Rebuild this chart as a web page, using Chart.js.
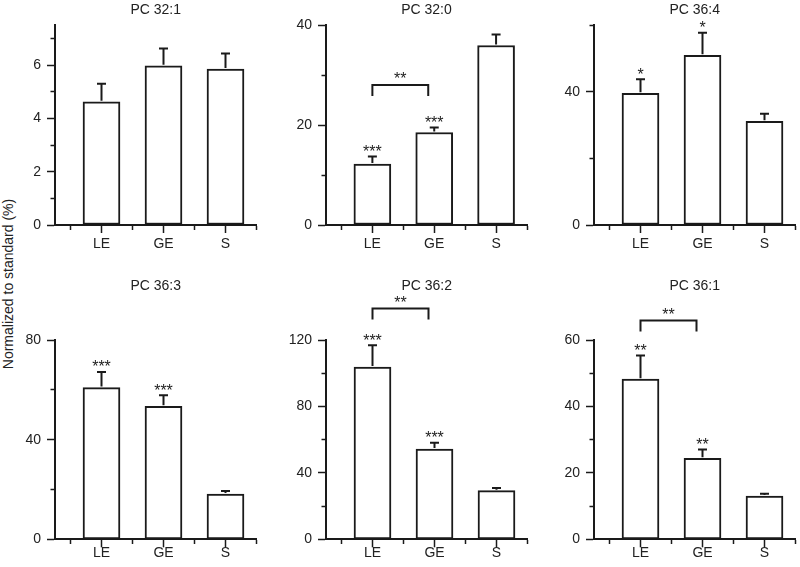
<!DOCTYPE html>
<html>
<head>
<meta charset="utf-8">
<script src="https://cdn.jsdelivr.net/npm/chart.js@4.4.0/dist/chart.umd.min.js"></script>
<style>
  html, body { margin: 0; padding: 0; background: #fff; }
  #wrap { position: relative; width: 800px; height: 567px; overflow: hidden; font-family: "Liberation Sans", Arial, sans-serif; }
  #wrap canvas { position: absolute; }
  #ylab { position: absolute; left: 8px; top: 284px; transform: translate(-50%, -50%) rotate(-90deg);
          white-space: nowrap; font-size: 14px; color: #222; }
</style>
</head>
<body>
<div id="wrap">
  <div id="ylab">Normalized to standard (%)</div>
</div>
<script>
// data
var categories = ['LE', 'GE', 'S'];
var titles = ['PC 32:1', 'PC 32:0', 'PC 36:4', 'PC 36:3', 'PC 36:2', 'PC 36:1'];
var means = [
    [4.62, 5.97, 5.85],
    [12.2, 18.5, 35.9],
    [39.5, 50.9, 31.1],
    [60.9, 53.4, 18.2],
    [103.7, 54.3, 29.3],
    [48.2, 24.4, 13.0]
];
var errors = [
    [0.68, 0.65, 0.58],
    [1.5, 1.0, 2.2],
    [4.2, 6.8, 2.3],
    [6.3, 4.4, 1.2],
    [13.1, 3.8, 1.6],
    [7.1, 2.6, 0.7]
];
var stars = [
    ['', '', ''],
    ['***', '***', ''],
    ['*', '*', ''],
    ['***', '***', ''],
    ['***', '***', ''],
    ['**', '**', '']
];
// LE vs GE comparisons: level in axis units
var brackets = [null, {from: 0, to: 1, level: 28, label: '**'}, null, null,
    {from: 0, to: 1, level: 139, label: '**'}, {from: 0, to: 1, level: 65.9, label: '**'}];
var yMax = [7.5, 40, 60, 80, 120, 60];
var yStep = [1, 10, 20, 20, 20, 10];
var yLabelStep = [2, 20, 40, 40, 40, 20];

// layout
var cols = [
    {left: 0, width: 265, areaLeft: 55},
    {left: 265, width: 265, areaLeft: 326},
    {left: 530, width: 270, areaLeft: 594}
];
var rows = [
    {top: 0, height: 262, areaTop: 25, areaBottom: 225, titleY: 10.3, labelPad: 3},
    {top: 262, height: 305, areaTop: 340, areaBottom: 539.3, titleY: 286, labelPad: -2.5}
];
var AREA_W = 201.5;
var INK = '#1a1a1a';

function makePanel(p) {
    var col = cols[p % 3], row = rows[Math.floor(p / 3)];
    var canvas = document.createElement('canvas');
    canvas.width = col.width;
    canvas.height = row.height;
    canvas.style.left = col.left + 'px';
    canvas.style.top = row.top + 'px';
    document.getElementById('wrap').appendChild(canvas);

    var yw = col.areaLeft - col.left;
    var padR = col.left + col.width - (col.areaLeft + AREA_W);
    var xh = row.top + row.height - row.areaBottom;
    var tTop = row.titleY - row.top - 8.4;
    var tBottom = row.areaTop - row.top - tTop - 16.8;

    var annotate = {
        id: 'annotate' + p,
        afterDatasetsDraw: function(chart) {
            var ctx = chart.ctx, xs = chart.scales.x, ys = chart.scales.y;
            ctx.save();
            ctx.strokeStyle = INK;
            ctx.fillStyle = '#222';
            ctx.lineWidth = 2;
            ctx.font = '16px "Liberation Sans", Arial, sans-serif';
            ctx.textAlign = 'center';
            ctx.textBaseline = 'alphabetic';
            means[p].forEach(function(m, i) {
                var x = xs.getPixelForValue(i);
                var yb = ys.getPixelForValue(m);
                var yt = ys.getPixelForValue(m + errors[p][i]);
                ctx.beginPath();
                ctx.moveTo(x, yb - 1);
                ctx.lineTo(x, yt);
                ctx.moveTo(x - 4.5, yt);
                ctx.lineTo(x + 4.5, yt);
                ctx.stroke();
                if (stars[p][i]) {
                    ctx.fillText(stars[p][i], x, yt + 0.3);
                }
            });
            var b = brackets[p];
            if (b) {
                var x1 = xs.getPixelForValue(b.from);
                var x2 = xs.getPixelForValue(b.to) - 6;
                var yl = ys.getPixelForValue(b.level);
                ctx.beginPath();
                ctx.moveTo(x1, yl + 11);
                ctx.lineTo(x1, yl);
                ctx.lineTo(x2, yl);
                ctx.lineTo(x2, yl + 11);
                ctx.stroke();
                ctx.fillText(b.label, (x1 + x2) / 2, yl - 0.7);
            }
            ctx.restore();
        }
    };

    // short (minor) tick marks are made with a dash pattern on the tick line
    function xDash(c) {
        if (!c.tick) return [];
        return Number.isInteger(c.tick.value) ? [] : [4, 20];
    }
    function yDash(c) {
        if (!c.tick) return [];
        return c.tick.value % yLabelStep[p] === 0 ? [] : [0, 3.5, 10, 0];
    }

    new Chart(canvas.getContext('2d'), {
        type: 'bar',
        data: {
            datasets: [{
                data: means[p].map(function(m, i) { return {x: i, y: m}; }),
                backgroundColor: '#ffffff',
                borderColor: INK,
                borderWidth: 2,
                borderSkipped: false,
                barThickness: 37
            }]
        },
        options: {
            responsive: false,
            devicePixelRatio: 1,
            animation: false,
            layout: {padding: {left: 0, right: padR, top: 0, bottom: 0}},
            plugins: {
                legend: {display: false},
                tooltip: {enabled: false},
                title: {
                    display: true,
                    text: titles[p],
                    fullSize: false,
                    color: '#222',
                    font: {family: '"Liberation Sans", Arial, sans-serif', size: 14, weight: 'normal'},
                    padding: {top: tTop, bottom: tBottom}
                }
            },
            scales: {
                x: {
                    type: 'linear',
                    offset: false,
                    min: -0.75,
                    max: 2.5,
                    afterBuildTicks: function(s) {
                        s.ticks = [-0.5, 0, 0.5, 1, 1.5, 2, 2.5].map(function(v) { return {value: v}; });
                    },
                    afterFit: function(s) { s.height = xh; },
                    ticks: {
                        autoSkip: false,
                        maxRotation: 0,
                        padding: row.labelPad,
                        color: '#222',
                        font: {family: '"Liberation Sans", Arial, sans-serif', size: 14},
                        callback: function(v) { return Number.isInteger(v) ? categories[v] : ''; }
                    },
                    grid: {
                        offset: false,
                        drawOnChartArea: false,
                        tickLength: 8,
                        tickColor: INK,
                        tickWidth: 1.5,
                        tickBorderDash: xDash
                    },
                    border: {color: INK, width: 2}
                },
                y: {
                    min: 0,
                    max: yMax[p],
                    afterFit: function(s) { s.width = yw; },
                    ticks: {
                        stepSize: yStep[p],
                        includeBounds: false,
                        autoSkip: false,
                        padding: 6,
                        color: '#222',
                        font: {family: '"Liberation Sans", Arial, sans-serif', size: 14},
                        callback: function(v) { return v % yLabelStep[p] === 0 ? v : ''; }
                    },
                    grid: {
                        drawOnChartArea: false,
                        tickLength: 8,
                        tickColor: INK,
                        tickWidth: 1.5,
                        tickBorderDash: yDash
                    },
                    border: {color: INK, width: 2}
                }
            }
        },
        plugins: [annotate]
    });
}

for (var p = 0; p < 6; p++) {
    makePanel(p);
}
</script>
</body>
</html>
